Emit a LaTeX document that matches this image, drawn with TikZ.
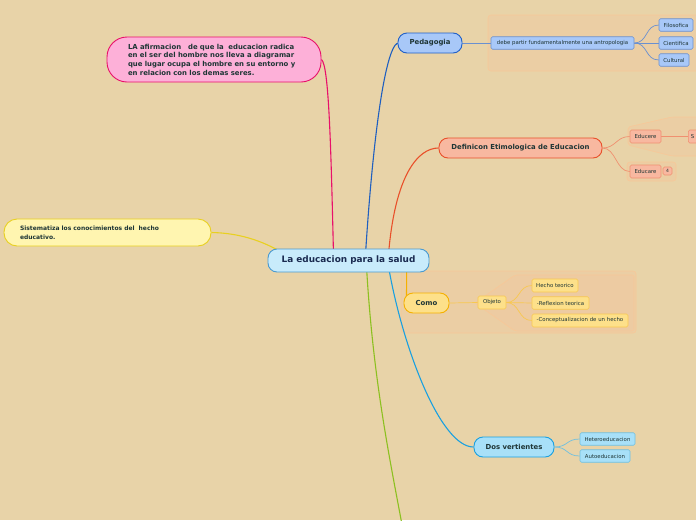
\documentclass[tikz,border=0pt]{standalone}
\usepackage{fontspec}
\setmainfont{DejaVu Sans}
\usetikzlibrary{calc}
\definecolor{bgc}{HTML}{E8D3A8}
\definecolor{txt}{HTML}{1E3535}
\definecolor{ctxt}{HTML}{1A2A50}
\definecolor{cfill}{HTML}{C8EBFB}
\definecolor{cdraw}{HTML}{4A9AD0}
\definecolor{pfill}{HTML}{A8C8F8}
\definecolor{pdraw}{HTML}{2060C8}
\definecolor{pline}{HTML}{1F5FC0}
\definecolor{plight}{HTML}{6A90D0}
\definecolor{dfill}{HTML}{F8B8A0}
\definecolor{ddraw}{HTML}{E8502A}
\definecolor{dlight}{HTML}{F09070}
\definecolor{kfill}{HTML}{FDE08A}
\definecolor{kdraw}{HTML}{F5B000}
\definecolor{klight}{HTML}{F8C850}
\definecolor{vfill}{HTML}{A8E0F8}
\definecolor{vdraw}{HTML}{1AA0E0}
\definecolor{vlight}{HTML}{70C0E0}
\definecolor{mfill}{HTML}{FDB0D8}
\definecolor{mdraw}{HTML}{E8106A}
\definecolor{yfill}{HTML}{FFF5B0}
\definecolor{ydraw}{HTML}{E8D020}
\definecolor{gline}{HTML}{8CC020}
\definecolor{bfill}{HTML}{F0C8A0}
\definecolor{bdraw}{HTML}{F8C898}
\pgfdeclarelayer{bgl}
\pgfdeclarelayer{bnd}
\pgfdeclarelayer{lns}
\pgfsetlayers{bgl,bnd,lns,main}
\begin{document}
\begin{tikzpicture}[x=1pt,y=-1pt,
  mainbox/.style={draw, line width=0.9pt, rounded corners=9pt, inner sep=0pt, minimum height=20pt, text=txt, font=\fontsize{6.9}{8}\selectfont\bfseries},
  leaf/.style={draw, line width=0.6pt, rounded corners=1.5pt, inner sep=0pt, minimum height=12.5pt, text=txt, font=\fontsize{5.4}{6}\selectfont},
  boundary/.style={fill=bfill, fill opacity=0.45, draw=bdraw, line width=0.6pt, rounded corners=3pt},
  mainline/.style={line width=1.1pt},
  subline/.style={line width=0.7pt}]
\useasboundingbox (0,0) rectangle (696,520);
\begin{pgfonlayer}{bgl}
  \fill[bgc] (0,0) rectangle (696,520);
\end{pgfonlayer}

% nodes
\node[mainbox, fill=cfill, draw=cdraw, text=ctxt, minimum width=161pt, minimum height=23pt, font=\fontsize{8.9}{10}\selectfont\bfseries] (central) at (348.5,260.5) {La educacion para la salud};

\node[mainbox, fill=pfill, draw=pdraw, minimum width=64pt] (ped) at (430,43) {Pedagogia};
\node[leaf, fill=pfill, draw=plight, minimum width=143pt] (debe) at (562.5,43) {debe partir fundamentalmente una antropologia};
\node[leaf, fill=pfill, draw=plight, minimum width=34pt] (fil) at (676,25) {Filosofica};
\node[leaf, fill=pfill, draw=plight, minimum width=34pt] (cie) at (676,43) {Cientifica};
\node[leaf, fill=pfill, draw=plight, minimum width=30pt] (cul) at (674,60) {Cultural};

\node[mainbox, fill=dfill, draw=ddraw, minimum width=163pt] (def) at (520.5,148) {Definicon Etimologica de Educacion};
\node[leaf, fill=dfill, draw=dlight, minimum width=31pt, minimum height=13pt] (educere) at (645.5,136.5) {Educere};
\node[leaf, fill=dfill, draw=dlight, minimum height=13pt, anchor=west, text width=20pt, align=left, inner xsep=2.5pt] (sn) at (688,136.5) {S};
\node[leaf, fill=dfill, draw=dlight, minimum width=31pt, minimum height=13pt] (educare) at (645.5,171.5) {Educare};
\node[leaf, fill=dfill, draw=dlight, minimum width=9pt, minimum height=8pt, font=\fontsize{4.5}{5}\selectfont] (four) at (667.5,171) {4};

\node[mainbox, fill=kfill, draw=kdraw, minimum width=45pt] (como) at (426.5,303) {Como};
\node[leaf, fill=kfill, draw=klight, minimum width=28pt, minimum height=13pt] (obj) at (492,302.5) {Objeto};
\node[leaf, fill=kfill, draw=klight, minimum width=46pt, minimum height=13pt] (hec) at (555,285.5) {Hecho teorico};
\node[leaf, fill=kfill, draw=klight, minimum width=57pt] (ref) at (560.5,303) {-Reflexion teorica};
\node[leaf, fill=kfill, draw=klight, minimum width=96pt, minimum height=13pt] (con) at (580,320.5) {-Conceptualizacion de un hecho};

\node[mainbox, fill=vfill, draw=vdraw, minimum width=80pt] (dos) at (514,447) {Dos vertientes};
\node[leaf, fill=vfill, draw=vlight, minimum width=55pt] (het) at (607.5,439) {Heteroeducacion};
\node[leaf, fill=vfill, draw=vlight, minimum width=50pt] (aut) at (605,456) {Autoeducacion};

\node[draw=mdraw, fill=mfill, line width=0.9pt, rounded corners=20pt, minimum width=214pt, minimum height=45pt, inner xsep=21pt, inner ysep=0pt, text width=172pt, align=left, text=txt, font=\fontsize{6.9}{8.7}\selectfont\bfseries] (pink) at (214,59.5)
  {LA afirmacion\ \ \ de que la\ \ educacion radica\\ en el ser del hombre nos lleva a diagramar\\ que lugar ocupa el hombre en su entorno y\\ en relacion con los demas seres.};

\node[draw=ydraw, fill=yfill, line width=0.9pt, rounded corners=13pt, minimum height=27pt, inner xsep=16pt, inner ysep=0pt, text width=175pt, align=left, text=txt, font=\fontsize{6}{9}\selectfont\bfseries] (yel) at (107.5,232.5)
  {Sistematiza los conocimientos del\ \ hecho\\ educativo.};

\coordinate (gend) at (403,530);

% boundaries
\begin{pgfonlayer}{bnd}
  \draw[boundary] (488,15) rectangle (704,71);
  \draw[boundary, rounded corners=2pt] (628,127) -- (672,117) -- (704,117) -- (704,156) -- (672,156) -- (628,145) -- cycle;
  \draw[boundary] (627,162) rectangle (676,181);
  \draw[boundary] (401,271) rectangle (636,333);
  \draw[boundary, rounded corners=2pt] (475,303) -- (515,275) -- (634,275) -- (634,331) -- (515,331) -- cycle;
\end{pgfonlayer}

% connectors
\begin{pgfonlayer}{lns}
  \draw[mainline, pline] ($(central.north)+(17,6)$) .. controls (372,150) and (384,50) .. (ped.west);
  \draw[mainline, ddraw] ($(central.north)+(40,6)$) .. controls (395,175) and (418,148) .. (def.west);
  \draw[mainline, mdraw] ($(central.north)+(-15,6)$) .. controls (331,150) and (329,65) .. (pink.east);
  \draw[mainline, ydraw] ($(central.north west)+(18,6)$) .. controls (262,240) and (238,233) .. (yel.east);
  \draw[mainline, kdraw] ($(central.south)+(58,-6)$) .. controls (407,290) and (406,298) .. ($(como.west)+(3,0)$);
  \draw[mainline, vdraw] ($(central.south)+(40,-6)$) .. controls (402,345) and (440,447) .. (dos.west);
  \draw[mainline, gline] ($(central.south)+(18,-6)$) .. controls (373,380) and (390,460) .. (gend);

  \draw[subline, plight] (ped.east) -- (debe.west);
  \draw[subline, plight] (debe.east) .. controls (648,43) and (645,25) .. (fil.west);
  \draw[subline, plight] (debe.east) -- (cie.west);
  \draw[subline, plight] (debe.east) .. controls (648,43) and (645,60) .. (cul.west);

  \draw[subline, dlight] (def.east) .. controls (616,148) and (616,136.5) .. (educere.west);
  \draw[subline, dlight] (def.east) .. controls (616,148) and (616,171.5) .. (educare.west);
  \draw[subline, dlight] (educere.east) -- (sn.west);

  \draw[subline, klight] (como.east) -- (obj.west);
  \draw[subline, klight] (obj.east) .. controls (520,302.5) and (518,285.5) .. (hec.west);
  \draw[subline, klight] (obj.east) -- (ref.west);
  \draw[subline, klight] (obj.east) .. controls (520,302.5) and (518,320.5) .. (con.west);

  \draw[subline, vlight] (dos.east) .. controls (568,447) and (566,439) .. (het.west);
  \draw[subline, vlight] (dos.east) .. controls (568,447) and (566,456) .. (aut.west);
\end{pgfonlayer}
\end{tikzpicture}
\end{document}
